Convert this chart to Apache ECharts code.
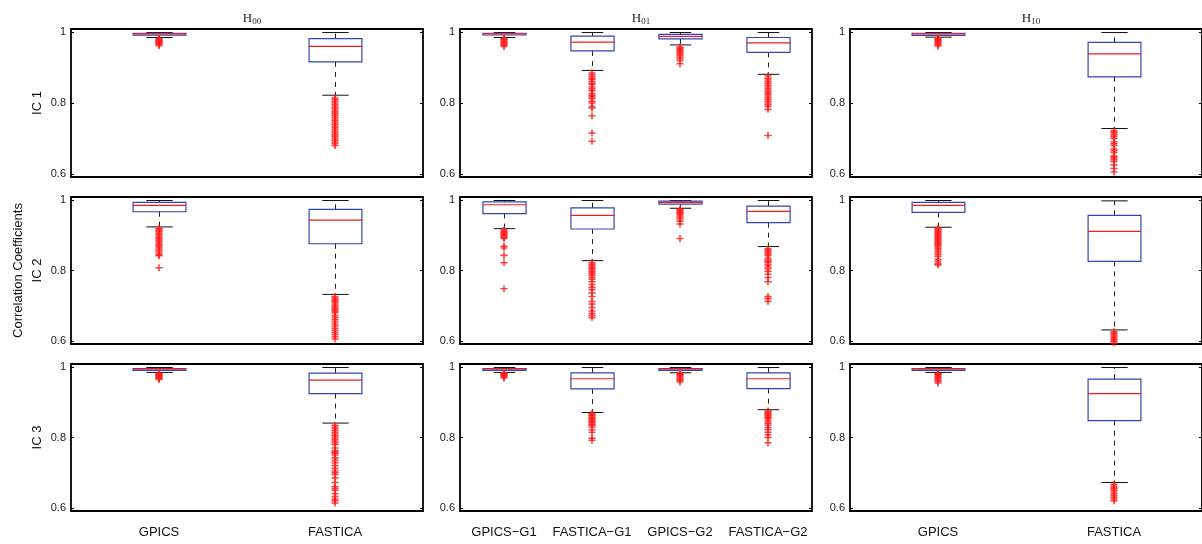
<!DOCTYPE html>
<html>
<head>
<meta charset="utf-8">
<script src="https://cdn.jsdelivr.net/npm/echarts@6/dist/echarts.min.js"></script>
<style>html,body{margin:0;padding:0;background:#fff}#chart{width:1202px;height:544px}</style>
</head>
<body>
<div id="chart"></div>
<script>
// ---------------- DATA ----------------
const columnSubscripts = ['00', '01', '10'];
const rowLabels = ['IC 1', 'IC 2', 'IC 3'];
const yAxisTitle = 'Correlation Coefficients';
const categoriesH00 = ['GPICS', 'FASTICA'];
const categoriesH01 = ['GPICS\u2212G1', 'FASTICA\u2212G1', 'GPICS\u2212G2', 'FASTICA\u2212G2'];
const categoriesH10 = ['GPICS', 'FASTICA'];
const yTickValues = [0.6, 0.8, 1];

// box stats: [lower whisker, Q1, median, Q3, upper whisker]
const ic1H00Stats = [[0.985, 0.9915, 0.995, 0.997, 0.999], [0.822, 0.916, 0.960, 0.982, 0.999]];
const ic1H00Outliers = [
  [0.982, 0.980, 0.978, 0.976, 0.974, 0.972, 0.970, 0.968, 0.965, 0.962],
  [0.814, 0.810, 0.805, 0.800, 0.795, 0.790, 0.785, 0.780, 0.775, 0.770, 0.765, 0.760, 0.755, 0.750, 0.745, 0.740, 0.735, 0.730, 0.725, 0.720, 0.715, 0.710, 0.705, 0.700, 0.695, 0.690, 0.685, 0.680]
];
const ic1H01Stats = [
  [0.985, 0.992, 0.995, 0.997, 0.999],
  [0.892, 0.947, 0.972, 0.989, 0.999],
  [0.964, 0.981, 0.988, 0.994, 0.999],
  [0.881, 0.943, 0.970, 0.985, 0.999]
];
const ic1H01Outliers = [
  [0.982, 0.980, 0.978, 0.975, 0.972, 0.969, 0.966, 0.963, 0.960],
  [0.885, 0.880, 0.875, 0.870, 0.866, 0.860, 0.855, 0.852, 0.845, 0.840, 0.835, 0.826, 0.822, 0.818, 0.813, 0.805, 0.800, 0.790, 0.786, 0.764, 0.715, 0.692],
  [0.958, 0.955, 0.952, 0.948, 0.945, 0.942, 0.938, 0.935, 0.930, 0.925, 0.920, 0.911],
  [0.876, 0.870, 0.865, 0.860, 0.855, 0.850, 0.845, 0.840, 0.835, 0.830, 0.825, 0.820, 0.815, 0.810, 0.805, 0.800, 0.795, 0.790, 0.782, 0.708]
];
const ic1H10Stats = [[0.986, 0.991, 0.995, 0.997, 0.999], [0.728, 0.874, 0.939, 0.971, 0.999]];
const ic1H10Outliers = [
  [0.983, 0.980, 0.978, 0.976, 0.973, 0.970, 0.967, 0.964, 0.961],
  [0.722, 0.718, 0.715, 0.710, 0.705, 0.700, 0.690, 0.685, 0.680, 0.670, 0.665, 0.660, 0.650, 0.645, 0.640, 0.635, 0.625, 0.615, 0.605]
];

const ic2H00Stats = [[0.924, 0.967, 0.985, 0.994, 0.999], [0.732, 0.876, 0.943, 0.974, 0.999]];
const ic2H00Outliers = [
  [0.920, 0.917, 0.914, 0.910, 0.906, 0.902, 0.898, 0.894, 0.890, 0.886, 0.882, 0.878, 0.874, 0.870, 0.865, 0.860, 0.855, 0.850, 0.845, 0.842, 0.808],
  [0.726, 0.722, 0.718, 0.714, 0.710, 0.705, 0.700, 0.696, 0.692, 0.688, 0.684, 0.680, 0.672, 0.666, 0.660, 0.654, 0.648, 0.642, 0.636, 0.630, 0.624, 0.618, 0.612, 0.605]
];
const ic2H01Stats = [
  [0.919, 0.962, 0.987, 0.995, 0.999],
  [0.828, 0.918, 0.957, 0.978, 0.999],
  [0.977, 0.989, 0.994, 0.997, 0.999],
  [0.868, 0.936, 0.968, 0.983, 0.999]
];
const ic2H01Outliers = [
  [0.915, 0.912, 0.909, 0.906, 0.903, 0.900, 0.897, 0.894, 0.891, 0.869, 0.864, 0.843, 0.822, 0.748],
  [0.822, 0.818, 0.814, 0.810, 0.806, 0.802, 0.798, 0.794, 0.790, 0.786, 0.780, 0.775, 0.768, 0.760, 0.752, 0.745, 0.736, 0.726, 0.712, 0.705, 0.695, 0.685, 0.678, 0.672, 0.666],
  [0.974, 0.971, 0.968, 0.965, 0.962, 0.959, 0.955, 0.950, 0.945, 0.940, 0.932, 0.891],
  [0.862, 0.858, 0.854, 0.850, 0.846, 0.842, 0.835, 0.830, 0.826, 0.822, 0.816, 0.810, 0.805, 0.798, 0.790, 0.780, 0.768, 0.726, 0.720, 0.712]
];
const ic2H10Stats = [[0.923, 0.965, 0.985, 0.994, 0.999], [0.631, 0.826, 0.911, 0.957, 0.998]];
const ic2H10Outliers = [
  [0.920, 0.917, 0.914, 0.911, 0.908, 0.905, 0.902, 0.899, 0.896, 0.893, 0.890, 0.887, 0.884, 0.881, 0.878, 0.875, 0.872, 0.868, 0.864, 0.860, 0.855, 0.850, 0.845, 0.840, 0.832, 0.826, 0.820, 0.816],
  [0.626, 0.622, 0.618, 0.614, 0.610, 0.606, 0.602, 0.598, 0.594]
];

const ic3H00Stats = [[0.985, 0.991, 0.995, 0.996, 0.999], [0.841, 0.925, 0.963, 0.983, 0.999]];
const ic3H00Outliers = [
  [0.982, 0.980, 0.978, 0.976, 0.974, 0.972, 0.970, 0.968, 0.965],
  [0.835, 0.830, 0.825, 0.820, 0.815, 0.810, 0.805, 0.800, 0.795, 0.790, 0.785, 0.780, 0.770, 0.762, 0.758, 0.755, 0.750, 0.742, 0.735, 0.728, 0.720, 0.712, 0.705, 0.700, 0.695, 0.685, 0.672, 0.660, 0.655, 0.650, 0.640, 0.632, 0.625, 0.620, 0.614]
];
const ic3H01Stats = [
  [0.985, 0.991, 0.995, 0.996, 0.999],
  [0.871, 0.938, 0.967, 0.984, 0.999],
  [0.984, 0.991, 0.995, 0.996, 0.999],
  [0.879, 0.939, 0.967, 0.984, 0.999]
];
const ic3H01Outliers = [
  [0.983, 0.981, 0.979, 0.977, 0.975, 0.972, 0.969],
  [0.868, 0.865, 0.862, 0.858, 0.855, 0.852, 0.848, 0.845, 0.842, 0.838, 0.835, 0.830, 0.822, 0.815, 0.798, 0.792],
  [0.982, 0.980, 0.978, 0.975, 0.972, 0.968, 0.965, 0.962, 0.958],
  [0.875, 0.872, 0.868, 0.865, 0.862, 0.858, 0.855, 0.850, 0.845, 0.840, 0.835, 0.828, 0.822, 0.815, 0.808, 0.800, 0.785]
];
const ic3H10Stats = [[0.985, 0.991, 0.995, 0.996, 0.999], [0.672, 0.848, 0.925, 0.966, 0.999]];
const ic3H10Outliers = [
  [0.982, 0.980, 0.978, 0.975, 0.972, 0.970, 0.967, 0.963, 0.960, 0.955],
  [0.667, 0.662, 0.658, 0.654, 0.650, 0.645, 0.640, 0.635, 0.630, 0.625, 0.620]
];

// ---------------- LAYOUT / STYLE ----------------
const colLeft = [71, 460, 850];
const colWidth = 352;
const rowTop = [29, 197, 364];
const rowHeight = [148, 147, 147];
const boxFrac = [0.30, 0.49, 0.30];
const SANS = 'Liberation Sans, Arial, sans-serif';
const SERIF = 'Liberation Serif, Times New Roman, serif';
const BOX_COLOR = '#3346b5';
const MED_COLOR = '#f01c1c';
const OUT_COLOR = '#ff1c1c';

const panels = [
  [categoriesH00, ic1H00Stats, ic1H00Outliers], [categoriesH01, ic1H01Stats, ic1H01Outliers], [categoriesH10, ic1H10Stats, ic1H10Outliers],
  [categoriesH00, ic2H00Stats, ic2H00Outliers], [categoriesH01, ic2H01Stats, ic2H01Outliers], [categoriesH10, ic2H10Stats, ic2H10Outliers],
  [categoriesH00, ic3H00Stats, ic3H00Outliers], [categoriesH01, ic3H01Stats, ic3H01Outliers], [categoriesH10, ic3H10Stats, ic3H10Outliers]
];

function makeRenderBox(frac) {
  return function (params, api) {
    const c = api.value(0);
    const lo = api.coord([c, api.value(1)]);
    const q1 = api.coord([c, api.value(2)]);
    const md = api.coord([c, api.value(3)]);
    const q3 = api.coord([c, api.value(4)]);
    const hi = api.coord([c, api.value(5)]);
    const bw = api.size([1, 0])[0] * frac;
    const x = Math.round(lo[0]) + 0.5;
    const cw = bw / 4;
    const dash = { stroke: '#222', lineWidth: 1, lineDash: [5, 5] };
    const solid = { stroke: '#111', lineWidth: 1 };
    return {
      type: 'group',
      children: [
        { type: 'line', shape: { x1: x, y1: q3[1], x2: x, y2: hi[1] }, style: dash },
        { type: 'line', shape: { x1: x, y1: q1[1], x2: x, y2: lo[1] }, style: dash },
        { type: 'line', shape: { x1: x - cw, y1: hi[1], x2: x + cw, y2: hi[1] }, style: solid },
        { type: 'line', shape: { x1: x - cw, y1: lo[1], x2: x + cw, y2: lo[1] }, style: solid },
        { type: 'rect', shape: { x: x - bw / 2, y: q3[1], width: bw, height: q1[1] - q3[1] },
          style: { fill: 'none', stroke: BOX_COLOR, lineWidth: 1.2 } },
        { type: 'line', shape: { x1: x - bw / 2, y1: md[1], x2: x + bw / 2, y2: md[1] },
          style: { stroke: MED_COLOR, lineWidth: 1.2 } }
      ]
    };
  };
}

const grid = [], xAxis = [], yAxis = [], series = [];
const PLUS = 'path://M3.5,0H5.5V3.5H9V5.5H5.5V9H3.5V5.5H0V3.5H3.5Z';

panels.forEach(function (p, g) {
  const r = Math.floor(g / 3), c = g % 3;
  const cats = p[0], stats = p[1], outs = p[2];
  grid.push({ left: colLeft[c], top: rowTop[r], width: colWidth, height: rowHeight[r],
    show: true, borderColor: '#000', borderWidth: 1.8, backgroundColor: '#fff' });
  xAxis.push({ type: 'category', gridIndex: g, data: cats,
    axisLine: { show: false }, axisTick: { show: false }, splitLine: { show: false },
    axisLabel: { show: r === 2, interval: 0, margin: 15, fontSize: 13, fontFamily: SANS, color: '#111' } });
  const yBase = { type: 'value', gridIndex: g, min: 0.591, max: 1.009,
    axisLine: { show: false }, splitLine: { show: false },
    axisTick: { show: true, inside: true, length: 3, customValues: yTickValues, lineStyle: { color: '#000', width: 1 } } };
  yAxis.push(Object.assign({}, yBase, { position: 'left',
    axisLabel: { customValues: yTickValues, margin: 5, fontSize: 11, fontFamily: SANS, color: '#222',
      formatter: function (v) { return Math.abs(v - 1) < 1e-9 ? '1' : v.toFixed(1); } } }));
  yAxis.push(Object.assign({}, yBase, { position: 'right', axisLabel: { show: false } }));
  series.push({ type: 'custom', xAxisIndex: g, yAxisIndex: 2 * g, z: 2,
    renderItem: makeRenderBox(boxFrac[c]),
    encode: { x: 0, y: [1, 2, 3, 4, 5] },
    data: stats.map(function (s, i) { return [i].concat(s); }) });
  const od = [];
  outs.forEach(function (list, i) { list.forEach(function (v) { od.push([i, v]); }); });
  series.push({ type: 'scatter', xAxisIndex: g, yAxisIndex: 2 * g, z: 3, symbol: PLUS, symbolSize: 7,
    itemStyle: { color: OUT_COLOR, opacity: 0.85 }, data: od, silent: true });
});

const title = columnSubscripts.map(function (s, c) {
  return { text: '{h|H}{s|' + s + '}', left: colLeft[c] + colWidth / 2, top: 6, textAlign: 'center',
    textStyle: { fontWeight: 'normal', rich: {
      h: { fontFamily: SERIF, fontSize: 13, fontWeight: 'normal', color: '#222', lineHeight: 15 },
      s: { fontFamily: SERIF, fontSize: 9, fontWeight: 'normal', color: '#222', lineHeight: 9, verticalAlign: 'bottom' } } } };
});

const graphic = [];
rowLabels.forEach(function (lab, r) {
  const cy = rowTop[r] + rowHeight[r] / 2;
  graphic.push({ type: 'text', x: 37, y: cy, rotation: Math.PI / 2,
    style: { text: lab, font: '13px ' + SANS, fill: '#111', textAlign: 'center', textVerticalAlign: 'middle' } });
});
graphic.push({ type: 'text', x: 18.5, y: rowTop[1] + rowHeight[1] / 2, rotation: Math.PI / 2,
  style: { text: yAxisTitle, font: '13px ' + SANS, fill: '#111', textAlign: 'center', textVerticalAlign: 'middle' } });

const chart = echarts.init(document.getElementById('chart'), null, { renderer: 'canvas' });
chart.setOption({ animation: false, backgroundColor: '#fff', title: title, grid: grid, xAxis: xAxis, yAxis: yAxis, series: series, graphic: graphic });
</script>
</body>
</html>
